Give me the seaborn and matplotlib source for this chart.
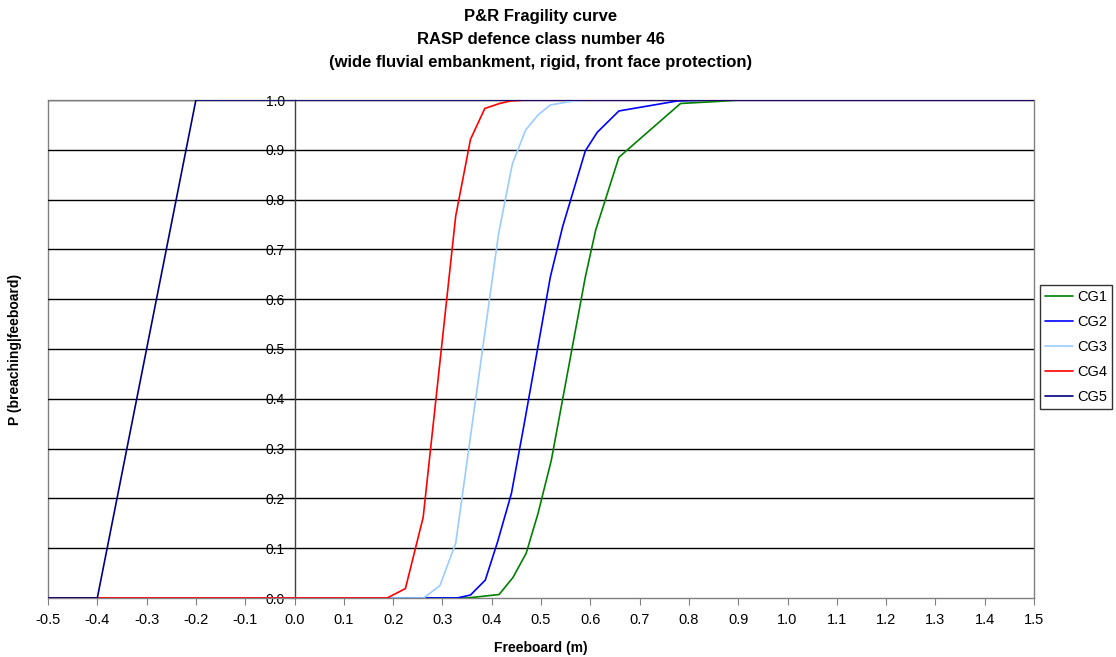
import matplotlib
matplotlib.use("Agg")
import matplotlib.pyplot as plt
import numpy as np
import pandas as pd
import seaborn as sns

# Fragility curves
cg1_x = [-0.5, 0.35, 0.415, 0.443, 0.470, 0.494, 0.521, 0.590, 0.611, 0.658, 0.783, 0.857, 0.9, 1.5]
cg1_y = [0.0, 0.0, 0.007, 0.041, 0.090, 0.170, 0.277, 0.645, 0.739, 0.885, 0.993, 0.997, 1.0, 1.0]

cg2_x = [-0.5, 0.33, 0.357, 0.387, 0.412, 0.440, 0.466, 0.493, 0.519, 0.544, 0.590, 0.614, 0.658, 0.776, 0.85, 1.5]
cg2_y = [0.0, 0.0, 0.006, 0.036, 0.113, 0.210, 0.35, 0.50, 0.645, 0.746, 0.898, 0.935, 0.978, 0.998, 1.0, 1.0]

cg3_x = [-0.5, 0.262, 0.295, 0.327, 0.414, 0.442, 0.469, 0.494, 0.519, 0.566, 0.6, 1.5]
cg3_y = [0.0, 0.0, 0.025, 0.110, 0.732, 0.872, 0.940, 0.970, 0.990, 0.998, 1.0, 1.0]

cg4_x = [-0.5, 0.188, 0.225, 0.261, 0.327, 0.357, 0.386, 0.416, 0.438, 0.47, 1.5]
cg4_y = [0.0, 0.0, 0.019, 0.162, 0.767, 0.921, 0.983, 0.993, 0.998, 1.0, 1.0]

cg5_x = [-0.5, -0.4, -0.2, 1.5]
cg5_y = [0.0, 0.0, 1.0, 1.0]

series_names = ["CG1", "CG2", "CG3", "CG4", "CG5"]
series_colors = ["#008000", "#0000FF", "#99CCFF", "#FF0000", "#000080"]

x_ticks = np.round(np.arange(-0.5, 1.51, 0.1), 1)
y_ticks = np.round(np.arange(0.0, 1.01, 0.1), 1)

frames = []
for name, xs, ys in zip(series_names,
                        [cg1_x, cg2_x, cg3_x, cg4_x, cg5_x],
                        [cg1_y, cg2_y, cg3_y, cg4_y, cg5_y]):
    frames.append(pd.DataFrame({"freeboard": xs, "p": ys, "series": name}))
df = pd.concat(frames, ignore_index=True)

sns.set_style("white")
plt.rcParams["font.family"] = ["Liberation Sans", "DejaVu Sans"]
plt.rcParams["text.color"] = "black"
plt.rcParams["axes.labelcolor"] = "black"
plt.rcParams["xtick.color"] = "black"
plt.rcParams["ytick.color"] = "black"

fig = plt.figure(figsize=(11.16, 6.57), dpi=100)
ax = fig.add_axes([48 / 1116, 1 - 598 / 657, 986 / 1116, 498 / 657])

# horizontal gridlines
for yv in y_ticks[1:]:
    ax.axhline(yv, color="black", lw=1.0, zorder=1)

sns.lineplot(data=df, x="freeboard", y="p", hue="series", hue_order=series_names,
             palette=series_colors, estimator=None, sort=False, lw=1.2, ax=ax, zorder=3)

def fmt(v):
    return f"{abs(v):.1f}" if abs(v) < 1e-9 else f"{v:.1f}"

ax.set_xlim(-0.5, 1.5)
ax.set_ylim(0.0, 1.0)
ax.set_xticks(x_ticks)
ax.set_xticklabels([fmt(v) for v in x_ticks], fontsize=10.5)
ax.set_yticks(y_ticks)
ax.set_yticklabels([fmt(v) for v in y_ticks], fontsize=10.5)

# frame and vertical axis at x = 0
for side in ["top", "right", "bottom", "left"]:
    ax.spines[side].set_visible(True)
    ax.spines[side].set_color("#808080")
    ax.spines[side].set_linewidth(1.0)
ax.spines["left"].set_position(("data", 0))
ax.spines["left"].set_color("#404040")
ax.axvline(-0.5, color="#808080", lw=1.0, clip_on=False, zorder=0)

ax.tick_params(axis="x", direction="out", length=5, color="#808080", pad=6, bottom=True)
ax.tick_params(axis="y", direction="out", length=4, color="#404040", pad=3, left=True)

ax.set_xlabel("Freeboard (m)", fontsize=10, fontweight="bold", labelpad=10)
ax.set_ylabel("P (breaching|feeboard)", fontsize=10, fontweight="bold")
ax.yaxis.set_label_coords(-0.026, 0.5)

ax.set_title("P&R Fragility curve\nRASP defence class number 46\n"
             "(wide fluvial embankment, rigid, front face protection)",
             fontsize=12, fontweight="bold", pad=24, linespacing=1.65)

leg = ax.legend(loc="upper left", bbox_to_anchor=(1040 / 1116, 1 - 285 / 657),
                bbox_transform=fig.transFigure, frameon=True, fancybox=False,
                edgecolor="black", fontsize=10.5, handlelength=1.9,
                borderpad=0.35, labelspacing=0.75, handletextpad=0.3,
                borderaxespad=0)
leg.get_frame().set_linewidth(1.0)
for line in leg.get_lines():
    line.set_linewidth(1.2)

fig.savefig("out.png", dpi=100)
